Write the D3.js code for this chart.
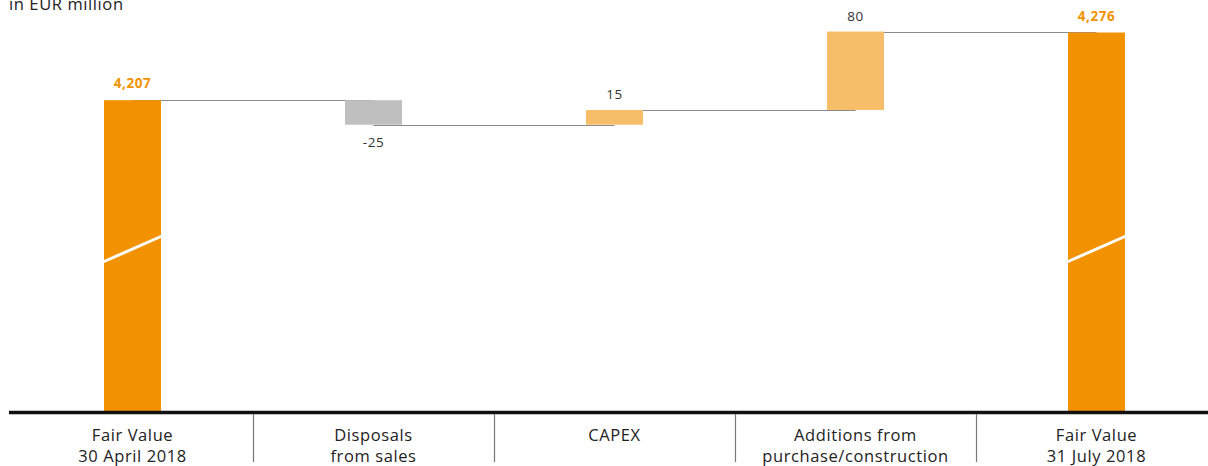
<!DOCTYPE html>
<html>
<head>
<meta charset="utf-8">
<script src="https://cdn.jsdelivr.net/npm/d3@7"></script>
<style>
  body { margin: 0; background: #fff; }
  text { font-family: "Open Sans", sans-serif; }
</style>
</head>
<body>
<div id="chart"></div>
<script>
// waterfall data (EUR million)
const categories = [
    ["Fair Value", "30 April 2018"],
    ["Disposals", "from sales"],
    ["CAPEX"],
    ["Additions from", "purchase/construction"],
    ["Fair Value", "31 July 2018"]
];
const values = [4207, -25, 15, 80, 4276];
const types = ["total", "delta", "delta", "delta", "total"];
const labels = ["4,207", "-25", "15", "80", "4,276"];

const width = 1208, height = 466;
const baseY = 411;

const svg = d3.select("#chart").append("svg")
    .attr("width", width)
    .attr("height", height);

// compute start/end of each bar
let running = 0;
const bars = values.map((v, i) => {
    let start, end;
    if (types[i] === "total") { start = null; end = v; running = v; }
    else { start = running; end = running + v; running = end; }
    return { i, v, start, end, type: types[i], label: labels[i] };
});

const x = d3.scaleBand()
    .domain(d3.range(categories.length))
    .range([12, 1217])
    .padding(0);

// truncated value axis (chart uses a broken scale)
const y = d3.scaleLinear()
    .domain([3890, 4300])
    .range([baseY, 9]);

const barW = 57;
const bx = i => x(i) + (x.bandwidth() - barW) / 2;

const colorOf = d => d.type === "total" ? "#F39200" : (d.v < 0 ? "#BFBFBF" : "#F6BE69");

// connectors
for (let k = 0; k < bars.length - 1; k++) {
    const d = bars[k];
    svg.append("line")
        .attr("x1", bx(k) + barW / 2)
        .attr("x2", bx(k + 1) + barW / 2)
        .attr("y1", Math.round(y(d.end)) + 0.5)
        .attr("y2", Math.round(y(d.end)) + 0.5)
        .attr("stroke", "#8a8a8a")
        .attr("stroke-width", 1.2);
}

// bars
svg.selectAll("rect.bar")
    .data(bars)
    .enter().append("rect")
    .attr("class", "bar")
    .attr("x", d => bx(d.i))
    .attr("width", barW)
    .attr("y", d => d.type === "total" ? y(d.end) : y(Math.max(d.start, d.end)))
    .attr("height", d => d.type === "total" ? baseY - y(d.end) : Math.abs(y(d.start) - y(d.end)))
    .attr("fill", colorOf);

// break marks on total bars
bars.filter(d => d.type === "total").forEach(d => {
    svg.append("line")
        .attr("x1", bx(d.i) - 1)
        .attr("x2", bx(d.i) + barW + 1)
        .attr("y1", 262)
        .attr("y2", 236)
        .attr("stroke", "#fff")
        .attr("stroke-width", 3);
});

// value labels
svg.selectAll("text.val")
    .data(bars)
    .enter().append("text")
    .attr("class", "val")
    .attr("x", d => bx(d.i) + barW / 2)
    .attr("y", d => {
        if (d.type === "total") return y(d.end) - 12;
        if (d.v < 0) return y(d.end) + 22;
        return y(d.end) - 11;
    })
    .attr("text-anchor", "middle")
    .style("font-size", "13.5px")
    .style("letter-spacing", "0.6px")
    .style("font-weight", d => d.type === "total" ? "bold" : "normal")
    .style("fill", d => d.type === "total" ? "#F39200" : "#333")
    .text(d => d.label);

// axis line
svg.append("line")
    .attr("x1", 9).attr("x2", width)
    .attr("y1", baseY + 1.5).attr("y2", baseY + 1.5)
    .attr("stroke", "#111")
    .attr("stroke-width", 3.5);

// separators
for (let k = 1; k < categories.length; k++) {
    svg.append("line")
        .attr("x1", x(k) + 0.5).attr("x2", x(k) + 0.5)
        .attr("y1", 414).attr("y2", 462)
        .attr("stroke", "#777")
        .attr("stroke-width", 1.2);
}

// category labels
const cat = svg.selectAll("text.cat")
    .data(categories)
    .enter().append("text")
    .attr("class", "cat")
    .attr("text-anchor", "middle")
    .attr("x", (d, i) => bx(i) + barW / 2)
    .attr("y", 441)
    .style("font-size", "16.5px")
    .style("letter-spacing", "0.6px")
    .style("fill", "#222");

cat.selectAll("tspan")
    .data(d => d)
    .enter().append("tspan")
    .attr("x", function() { return d3.select(this.parentNode).attr("x"); })
    .attr("dy", (d, j) => j === 0 ? 0 : 21)
    .text(d => d);

// unit title
svg.append("text")
    .attr("x", 9)
    .attr("y", 10)
    .style("font-size", "16.5px")
    .style("letter-spacing", "0.6px")
    .style("fill", "#222")
    .text("in EUR million");
</script>
</body>
</html>
